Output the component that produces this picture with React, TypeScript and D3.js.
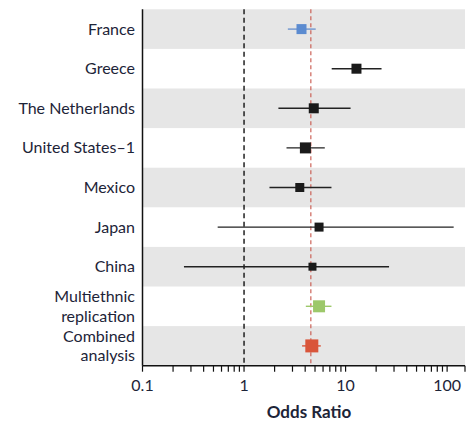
import React from 'react';
import * as d3 from 'd3';

const studies = ['France', 'Greece', 'The Netherlands', 'United States\u20131', 'Mexico', 'Japan', 'China', 'Multiethnic\nreplication', 'Combined\nanalysis'];
const oddsRatio = [3.68, 12.8, 4.86, 4.02, 3.54, 5.48, 4.72, 5.48, 4.65];
const ciLow = [2.7, 7.3, 2.18, 2.62, 1.78, 0.55, 0.256, 4.06, 3.73];
const ciHigh = [5.08, 22.6, 11.2, 6.24, 7.26, 116, 26.8, 7.26, 5.7];
const markerSize = [10, 10, 10, 11, 9, 9, 8, 12, 13];
const markerColor = ['#5b8bd0', '#1a1a1a', '#1a1a1a', '#1a1a1a', '#1a1a1a', '#1a1a1a', '#1a1a1a', '#9dc86a', '#d9553a'];
const lineColor = ['#6f95cf', '#222', '#222', '#222', '#222', '#222', '#222', '#9dc86a', '#d9553a'];
const tickLabels = [0.1, 1, 10, 100];
const pooledOR = 4.55;

const W = 471, H = 423;
const m = { left: 142.5, right: 465, top: 9.3, bottom: 365.7 };
const font = 'Lato, "Open Sans", sans-serif';

export default function App() {
  const x = d3.scaleLog().domain([0.1, 150]).range([m.left, m.right]);
  const y = d3.scaleBand<number>().domain(d3.range(studies.length)).range([m.top, m.bottom]);
  const bw = y.bandwidth();

  const minor: number[] = [];
  tickLabels.forEach(d => d3.range(1, 10).forEach(k => { if (d * k <= 150) minor.push(d * k); }));
  minor.push(150);

  return (
    <svg width={W} height={H} style={{ position: 'absolute', left: 0, top: 0, background: '#fff' }}>
      {studies.map((s, i) => i % 2 === 0 ? (
        <rect key={'b' + i} x={m.left} y={y(i)!} width={m.right - m.left} height={bw} fill="#e6e6e6" />
      ) : null)}
      {/* reference lines */}
      <line x1={x(1)} x2={x(1)} y1={m.top} y2={m.bottom} stroke="#111" strokeWidth={1.4} strokeDasharray="5,3.5" />
      <line x1={x(pooledOR)} x2={x(pooledOR)} y1={m.top} y2={m.bottom} stroke="#c8564a" strokeWidth={1.1} strokeDasharray="4,3" />
      {/* axes */}
      <line x1={m.left} x2={m.left} y1={m.top} y2={m.bottom} stroke="#111" strokeWidth={1.5} />
      <line x1={m.left} x2={m.right} y1={m.bottom} y2={m.bottom} stroke="#111" strokeWidth={1.5} />
      {minor.map((t, i) => (
        <line key={'t' + i} x1={x(t)} x2={x(t)} y1={m.bottom} y2={m.bottom + 6} stroke="#111" strokeWidth={1.2} />
      ))}
      {tickLabels.map(t => (
        <text key={'l' + t} x={x(t)} y={m.bottom + 25} textAnchor="middle" fontFamily={font} fontSize={16} fill="#1d2438">{t}</text>
      ))}
      <text x={309} y={418} textAnchor="middle" fontFamily={font} fontSize={17} fontWeight="bold" fill="#1d2438">Odds Ratio</text>
      {/* study labels */}
      {studies.map((s, i) => {
        const lines = s.split('\n');
        const cy = y(i)! + bw / 2;
        return (
          <text key={'s' + i} x={135} textAnchor="end" fontFamily={font} fontSize={16} fill="#1d2438">
            {lines.map((ln, j) => (
              <tspan key={j} x={135} y={cy + 5.5 + (j - (lines.length - 1) / 2) * 19.5}>{ln}</tspan>
            ))}
          </text>
        );
      })}
      {/* CIs and markers */}
      {studies.map((s, i) => {
        const cy = y(i)! + bw / 2;
        const sz = markerSize[i];
        return (
          <g key={'p' + i}>
            <line x1={x(ciLow[i])} x2={x(ciHigh[i])} y1={cy} y2={cy} stroke={lineColor[i]} strokeWidth={1.4} />
            <rect x={x(oddsRatio[i]) - sz / 2} y={cy - sz / 2} width={sz} height={sz} fill={markerColor[i]} />
          </g>
        );
      })}
    </svg>
  );
}
